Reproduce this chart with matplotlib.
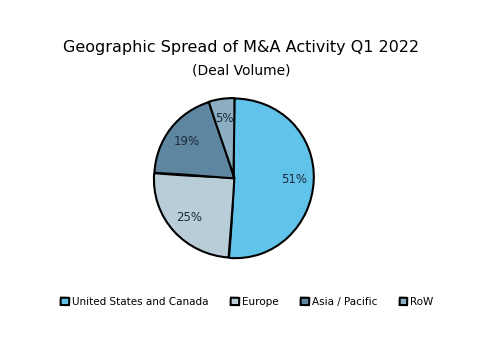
import matplotlib.pyplot as plt

regions = ['United States and Canada', 'Europe', 'Asia / Pacific', 'RoW']
shares = [51, 25, 19, 5]
colors = ['#62c3ea', '#b9cdd9', '#5f86a0', '#8eafc3']

with plt.xkcd(scale=0.4, length=150, randomness=2):
    # no handwriting font here, and drop the white halo strokes
    plt.rcParams['font.family'] = ['DejaVu Sans']
    plt.rcParams['path.effects'] = []
    fig = plt.figure(figsize=(5, 3.53), dpi=100)
    ax = fig.add_axes([0.268, 0.212, 0.4, 0.567])
    wedges, texts, autotexts = ax.pie(
        shares, colors=colors, startangle=90, counterclock=False,
        autopct='%d%%', pctdistance=0.75,
        wedgeprops={'edgecolor': 'black', 'linewidth': 1.5},
        textprops={'fontsize': 8.5, 'color': '#1a2a3a'})
    ax.set_aspect('equal')

    fig.text(0.483, 0.865, 'Geographic Spread of M&A Activity Q1 2022',
             ha='center', va='center', fontsize=11.5)
    fig.text(0.483, 0.80, '(Deal Volume)', ha='center', va='center', fontsize=10)

    fig.legend(wedges, regions, loc='center', bbox_to_anchor=(0.495, 0.145),
               ncol=4, frameon=False, fontsize=7.5, handlelength=0.7,
               handleheight=0.7, columnspacing=2.2, handletextpad=0.3)

    fig.savefig('out.png', dpi=100)
